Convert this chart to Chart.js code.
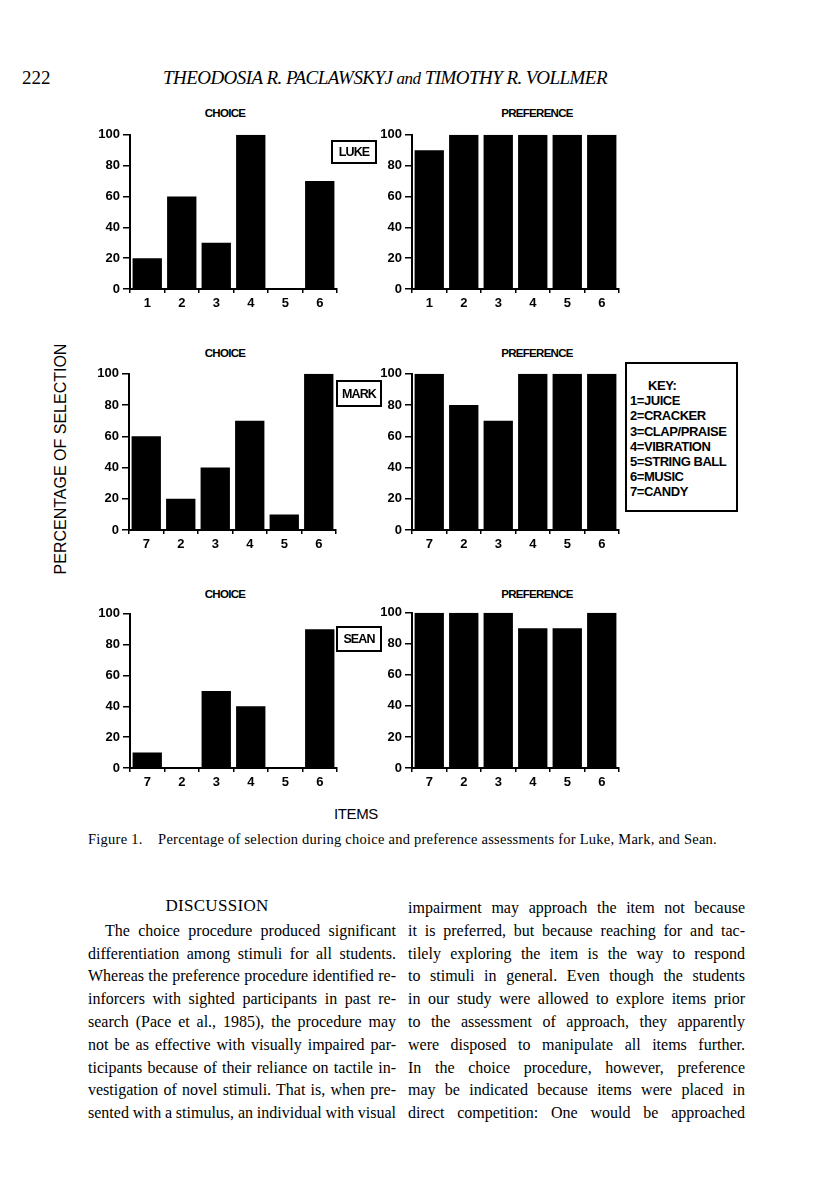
<!DOCTYPE html>
<html>
<head>
<meta charset="utf-8">
<script src="https://cdn.jsdelivr.net/npm/chart.js@4.4.1/dist/chart.umd.min.js"></script>
<style>
  body { margin: 0; width: 816px; height: 1200px; position: relative; overflow: hidden; background: #fff; color: #000; }
  .abs { position: absolute; white-space: nowrap; }
  .sans { font-family: "Liberation Sans", Arial, sans-serif; font-weight: bold; }
  .serif { font-family: "Liberation Serif", "Times New Roman", serif; }
  .ptitle { font-size: 11.5px; letter-spacing: -0.7px; transform: translate(-50%, -50%); }
  .name { border: 2px solid #000; box-sizing: border-box; font-size: 12.5px; letter-spacing: -0.9px; display: flex; align-items: center; justify-content: center; }
  .key { border: 2px solid #000; box-sizing: border-box; }
  .key div { position: absolute; font-size: 13px; letter-spacing: -0.45px; line-height: 15px; }
  .ln { font-size: 16px; line-height: 22.8px; }
</style>
</head>
<body>

<div class="abs serif" style="left:22px; top:67px; font-size:19px;">222</div>
<div class="abs serif fit" data-w="444" style="left:163px; top:67px; font-size:19px; font-style:italic;">THEODOSIA R. PACLAWSKYJ <span style="font-size:17px">and</span> TIMOTHY R. VOLLMER</div>

<div id="charts"></div>

<div class="abs sans" style="left:61px; top:459px; font-size:16px; font-weight:normal; transform:translate(-50%,-50%) rotate(-90deg);">PERCENTAGE OF SELECTION</div>
<div class="abs sans" style="left:356px; top:813px; font-size:15px; font-weight:normal; letter-spacing:-0.4px; transform:translate(-50%,-50%);">ITEMS</div>

<div class="abs sans name" style="left:331px; top:140px; width:46px; height:24px;">LUKE</div>
<div class="abs sans name" style="left:336px; top:380px; width:46px; height:27px;">MARK</div>
<div class="abs sans name" style="left:336px; top:626px; width:46px; height:26px;">SEAN</div>

<div class="abs sans key" style="left:625px; top:362px; width:113px; height:150px;">
  <div style="left:21px; top:14px;">KEY:</div>
  <div style="left:3px; top:29px;">1=JUICE</div>
  <div style="left:3px; top:44px;">2=CRACKER</div>
  <div style="left:3px; top:60px;">3=CLAP/PRAISE</div>
  <div style="left:3px; top:75px;">4=VIBRATION</div>
  <div style="left:3px; top:90px;">5=STRING BALL</div>
  <div style="left:3px; top:105px;">6=MUSIC</div>
  <div style="left:3px; top:120px;">7=CANDY</div>
</div>

<div class="abs serif fit" data-w="629" style="left:88px; top:831px; font-size:14.5px;">Figure 1.&nbsp;&nbsp;&nbsp; Percentage of selection during choice and preference assessments for Luke, Mark, and Sean.</div>

<div class="abs serif" style="left:217px; top:906px; font-size:17px; letter-spacing:0.3px; transform:translate(-50%,-50%);">DISCUSSION</div>

<div id="body"></div>

<script>
// items on the x axis of each student's panels
const itemsLuke = ['1', '2', '3', '4', '5', '6'];
const itemsMark = ['7', '2', '3', '4', '5', '6'];
const itemsSean = ['7', '2', '3', '4', '5', '6'];

// percentage of selection
const lukeChoice = [20, 60, 30, 100, 0, 70];
const lukePref   = [90, 100, 100, 100, 100, 100];
const markChoice = [60, 20, 40, 70, 10, 100];
const markPref   = [100, 80, 70, 100, 100, 100];
const seanChoice = [10, 0, 50, 40, 0, 90];
const seanPref   = [100, 100, 100, 90, 90, 100];

const yMin = 0, yMax = 100, yStep = 20;

const FONT = '"Liberation Sans", Arial, sans-serif';

// panel frames: left/right of the x axis, top (100) and bottom (0) of the y axis
const panels = [
  { L: 130, R: 337, T: 132, B: 289, title: 'CHOICE',     tx: 225, ty: 113, labels: itemsLuke, data: lukeChoice },
  { L: 412, R: 619, T: 132, B: 289, title: 'PREFERENCE', tx: 537, ty: 113, labels: itemsLuke, data: lukePref },
  { L: 129, R: 336, T: 371, B: 530, title: 'CHOICE',     tx: 225, ty: 353, labels: itemsMark, data: markChoice },
  { L: 412, R: 619, T: 371, B: 530, title: 'PREFERENCE', tx: 537, ty: 353, labels: itemsMark, data: markPref },
  { L: 130, R: 337, T: 611, B: 768, title: 'CHOICE',     tx: 225, ty: 594, labels: itemsSean, data: seanChoice },
  { L: 412, R: 619, T: 610, B: 768, title: 'PREFERENCE', tx: 537, ty: 594, labels: itemsSean, data: seanPref }
];

const padL = 45, padT = 8, padR = 6, padB = 30;
const holder = document.getElementById('charts');

panels.forEach(function (p) {
  const t = document.createElement('div');
  t.className = 'abs sans ptitle';
  t.style.left = p.tx + 'px';
  t.style.top = p.ty + 'px';
  t.textContent = p.title;
  holder.appendChild(t);

  const wrap = document.createElement('div');
  wrap.className = 'abs';
  wrap.style.left = (p.L - padL) + 'px';
  wrap.style.top = (p.T - padT) + 'px';
  const cv = document.createElement('canvas');
  cv.width = p.R - p.L + padL + padR;
  cv.height = p.B - p.T + padT + padB;
  wrap.appendChild(cv);
  holder.appendChild(wrap);

  new Chart(cv, {
    type: 'bar',
    data: {
      labels: p.labels,
      datasets: [{
        data: p.data,
        backgroundColor: '#000',
        borderWidth: 0,
        barPercentage: 0.85,
        categoryPercentage: 1
      }]
    },
    options: {
      responsive: false,
      animation: false,
      layout: { padding: { top: padT, right: padR, left: 0, bottom: 0 } },
      plugins: { legend: { display: false }, tooltip: { enabled: false } },
      scales: {
        x: {
          grid: { offset: true, drawOnChartArea: false, drawTicks: true, tickLength: 4, color: '#000', lineWidth: 1.5 },
          border: { display: true, color: '#000', width: 2 },
          ticks: { font: { family: FONT, size: 13, weight: 'bold' }, color: '#000', padding: 3, maxRotation: 0 },
          afterFit: function (s) { s.height = padB; }
        },
        y: {
          min: yMin,
          max: yMax,
          grid: { drawOnChartArea: false, drawTicks: true, tickLength: 7, color: '#000', lineWidth: 1.5 },
          border: { display: true, color: '#000', width: 2 },
          ticks: { stepSize: yStep, font: { family: FONT, size: 13, weight: 'bold' }, color: '#000', padding: 3 },
          afterFit: function (s) { s.width = padL; }
        }
      }
    }
  });
});

// body text, line by line as set in the page
const leftLines = [
  'The choice procedure produced significant',
  'differentiation among stimuli for all students.',
  'Whereas the preference procedure identified re-',
  'inforcers with sighted participants in past re-',
  'search (Pace et al., 1985), the procedure may',
  'not be as effective with visually impaired par-',
  'ticipants because of their reliance on tactile in-',
  'vestigation of novel stimuli. That is, when pre-',
  'sented with a stimulus, an individual with visual'
];
const rightLines = [
  'impairment may approach the item not because',
  'it is preferred, but because reaching for and tac-',
  'tilely exploring the item is the way to respond',
  'to stimuli in general. Even though the students',
  'in our study were allowed to explore items prior',
  'to the assessment of approach, they apparently',
  'were disposed to manipulate all items further.',
  'In the choice procedure, however, preference',
  'may be indicated because items were placed in',
  'direct competition: One would be approached'
];

const body = document.getElementById('body');
const lh = 22.8, firstTop = 897;

function addLine(text, x, y, w) {
  const d = document.createElement('div');
  d.className = 'abs serif ln';
  d.style.left = x + 'px';
  d.style.top = y + 'px';
  d.textContent = text;
  body.appendChild(d);
  const nat = d.getBoundingClientRect().width;
  const gaps = (text.match(/ /g) || []).length;
  if (gaps) d.style.wordSpacing = ((w - nat) / gaps) + 'px';
}

leftLines.forEach(function (t, i) {
  const indent = i === 0 ? 17 : 0;
  addLine(t, 88 + indent, firstTop + lh * (i + 1), 308 - indent);
});
rightLines.forEach(function (t, i) {
  addLine(t, 408, firstTop + lh * i, 337);
});

document.querySelectorAll('.fit').forEach(function (el) {
  const w = +el.dataset.w;
  const nat = el.getBoundingClientRect().width;
  el.style.letterSpacing = ((w - nat) / el.textContent.length) + 'px';
});
</script>
</body>
</html>
